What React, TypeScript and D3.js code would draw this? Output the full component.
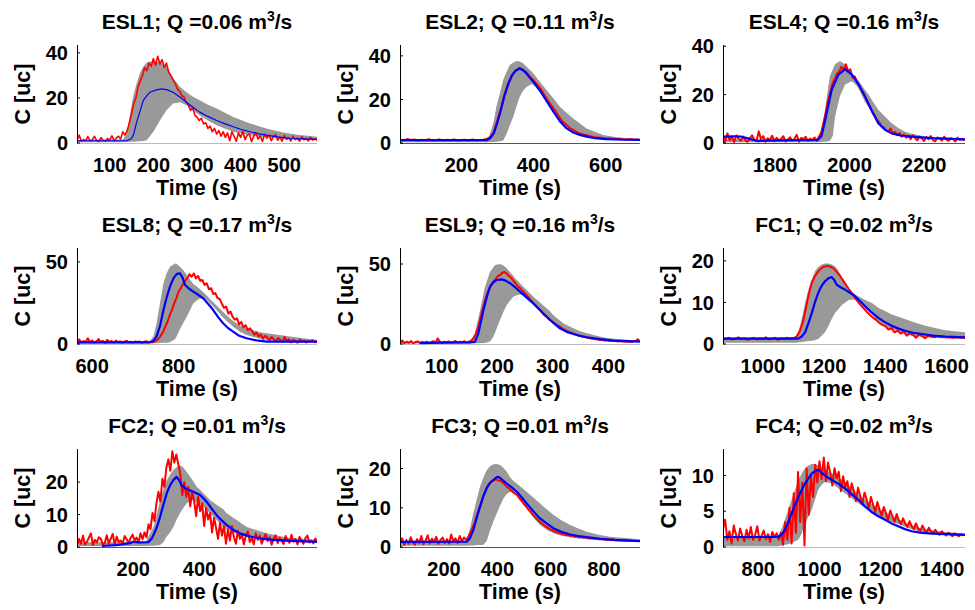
import React from "react";
import * as d3 from "d3";

// ---------- DATA ----------
// Observed (red) series: regularly sampled, start time + step, values in uc
const esl1ObsStart = 25, esl1ObsStep = 5;
const esl1Obs = [1.2,3.5,0.8,1.5,1.0,2.8,0.9,1.4,3.0,1.1,0.7,2.4,1.2,0.9,2.0,1.3,3.2,1.0,2.2,
3.0,1.8,5.0,3.5,5.5,9.0,13.0,17.5,20.0,25.0,27.5,30.0,33.5,32.0,35.5,34.0,37.5,34.5,38.5,35.0,37.0,33.5,35.5,31.5,30.0,28.0,26.5,24.0,23.0,21.0,20.5,18.0,17.0,14.5,15.5,12.5,11.5,10.0,11.0,8.5,9.0,6.5,7.5,5.0,6.5,4.0,5.5,3.0,5.0,2.5,4.5,1.0,5.0,3.0,0.8,4.5,2.5,5.2,1.5,3.5,4.0,0.6,3.0,4.5,1.8,3.2,0.7,4.0,2.2,3.6,1.0,2.8,3.8,1.2,2.6,0.8,3.4,1.6,2.4,0.9,3.0,1.5,2.2,0.8,2.8,1.4,2.0,0.9,2.5,1.3,1.9,1.2];
const esl1Model = [[25,1],[140,1],[150,2],[155,4],[161,8.7],[170,14.5],[177,18.9],[185,21],[192,22.5],[207,23.6],[220,24],[232,23.6],[245,22.5],[260,20.5],[276,18.1],[290,16],[306,13.7],[325,11.8],[345,10],[365,8.5],[383,7.2],[400,6.1],[421,5],[440,4.2],[459,3.5],[485,2.7],[513,2],[545,1.8],[575,1.6]];
const esl1Band = [[25,0.3,1.3],[130,0.3,1.5],[139,0.4,4],[146,0.5,12],[153,0.6,20],[161,0.7,26],[169,0.8,31],[177,0.9,34],[185,1.2,35.7],[192,3,36.2],[200,5,36],[215,10,35.8],[230,14.5,34],[245,17.5,29],[261,18.1,25],[276,16.8,22.5],[290,14.5,20.6],[306,12.3,19],[325,10,17],[345,7.9,15.3],[365,6.3,13.3],[383,5,11.5],[420,3.5,8.8],[459,2.5,6.4],[500,1.9,4.6],[536,1.5,3.5],[575,1.3,2.8]];

const esl2ObsStart = 30, esl2ObsStep = 10;
const esl2Obs = [1.5,1.2,1.8,1.4,1.6,1.1,1.5,1.3,1.7,1.2,1.4,1.6,1.1,1.5,1.3,1.6,1.2,1.4,1.5,1.1,1.6,1.3,1.4,1.5,1.8,2.8,5.0,10.5,16.0,22.5,27.5,31.0,33.0,34.5,33.8,32.5,30.5,28.8,26.8,24.8,22.0,19.5,17.2,14.8,12.2,10.0,8.5,7.0,6.0,5.0,4.3,3.8,3.4,3.0,2.6,2.5,2.3,2.1,2.2,1.9,1.8,2.0,1.7,1.6,1.8,1.5,1.7];
const esl2Model = [[30,1.3],[270,1.3],[280,2.2],[290,4.5],[300,9.5],[310,15.5],[320,22],[330,27],[340,31],[350,33.2],[362,34.2],[372,33.3],[381,31.8],[399,28.2],[418,24],[436,19.3],[455,14.4],[473,10],[492,6.7],[510,4.8],[530,3.6],[547,2.9],[570,2.2],[600,1.8],[650,1.5],[695,1.4]];
const esl2Band = [[30,0.3,1.4],[270,0.3,1.5],[275,0.4,2],[290,0.5,10],[297,0.6,16.7],[307,0.8,23],[316,1.2,29],[326,4.5,33],[334,8,35.8],[344,12,37],[353,17,37.6],[362,21.3,37.4],[371,24,36.6],[381,25.8,35],[394,27,33],[399,26.7,32],[418,23.6,28],[436,19.7,24.3],[455,15.2,20.5],[473,10.6,16.7],[492,7.5,13.8],[510,5.2,11.3],[547,2.9,6.7],[593,1.8,3.7],[640,1.4,2.4],[695,1.3,1.8]];

const esl4ObsStart = 1660, esl4ObsStep = 6;
const esl4Obs = [2.8,0.6,3.9,1.2,2.5,0.4,3.1,1.8,0.9,2.7,1.1,0.5,2.0,3.2,1.4,0.8,4.8,1.6,2.9,0.5,1.9,1.3,3.0,0.7,2.2,1.0,1.6,2.8,0.6,1.4,2.4,0.9,1.7,3.4,0.5,2.1,1.5,2.6,0.8,1.8,1.2,2.3,0.9,2.7,
4.5,8.5,12.5,17.5,21.0,24.5,26.5,28.5,29.5,31.5,30.0,32.5,29.5,30.5,27.0,27.5,25.0,24.0,22.0,20.5,18.5,16.5,14.5,12.5,11.0,9.5,8.5,7.0,6.5,
5.5,4.8,6.0,3.9,4.6,3.2,4.1,2.6,3.5,2.2,3.0,1.6,3.3,2.0,1.1,2.7,1.9,0.8,2.5,1.5,2.9,1.2,0.7,2.3,1.8,1.0,2.6,1.4,0.9,2.0,1.6,0.6,2.2,1.3,1.7,1.0];
const esl4Model = [[1660,2.6],[1690,2.8],[1710,2.6],[1730,1.8],[1754,0.8],[1780,1.0],[1850,1.2],[1915,1.3],[1925,3],[1938,12],[1952,22],[1970,28.3],[1988,30.5],[2006,28.3],[2023,24.5],[2041,19.3],[2059,13.5],[2077,8.2],[2095,5.5],[2113,4],[2140,3],[2167,2.6],[2220,2],[2310,1.5]];
const esl4Band = [[1660,0.3,1.5],[1916,0.3,1.6],[1925,0.4,5],[1934,0.5,13.7],[1947,0.8,27.6],[1955,3,30.5],[1961,11,32.5],[1974,19.3,33.9],[1988,24.2,32.5],[2006,25.5,28.8],[2014,24.5,27.6],[2023,22.8,26],[2041,17,22],[2050,15.1,20.2],[2059,13,18],[2077,8.9,13.7],[2095,6.5,11],[2113,4.7,8.2],[2131,3.5,6.2],[2149,2.8,4.7],[2167,2.6,3.8],[2203,2,2.6],[2310,1.25,1.9]];

const esl8ObsStart = 565, esl8ObsStep = 5;
const esl8Obs = [1.5,2.8,0.9,1.8,1.2,3.5,1.0,2.2,0.8,1.6,3.0,1.1,1.9,0.7,2.5,1.3,1.8,0.9,2.0,1.2,1.6,0.8,1.5,1.9,1.0,1.4,0.9,1.6,1.2,1.5,0.8,1.3,1.7,1.0,1.4,1.1,1.6,2.2,3.8,5.5,8.0,11.0,14.0,18.0,21.0,25.0,28.0,32.0,34.0,36.5,38.5,40.0,42.5,41.0,43.0,40.0,41.5,38.5,39.0,36.0,37.0,33.5,34.0,30.5,31.0,28.0,27.5,
24.5,22.0,22.8,18.5,19.8,16.5,14.8,15.6,12.0,13.4,10.2,11.5,8.4,9.6,7.8,5.6,7.0,4.6,5.8,3.2,5.0,3.9,2.2,4.4,2.8,1.6,3.6,2.4,1.3,4.2,2.0,2.9,1.0,2.5,1.8,0.8,2.7,1.4,2.1,0.9,1.9,1.5,2.3,1.1,1.4];
const esl8Model = [[565,1],[734,1],[742,2],[749,4.5],[757,11],[765,20.7],[772,28],[780,35],[788,40],[796,42.7],[803,43],[809,40.5],[815,36],[825,33.5],[834,31.9],[845,30],[857,27.8],[868,24.5],[880,20.7],[891,16.5],[903,12.6],[914,9.8],[926,7.5],[940,5],[957,3.5],[980,2.2],[1004,1.4],[1120,1.4]];
const esl8Band = [[565,0.3,1.2],[734,0.3,1.5],[742,0.4,5],[749,0.5,12.6],[757,0.6,25],[765,0.7,37],[772,0.8,43],[780,1,47],[792,3,49],[796,5,48.8],[803,9,47],[811,13,45],[819,16.7,42],[827,21,39],[834,24.8,36.5],[842,26.5,35],[849,27.8,33.5],[857,27.5,31.5],[865,26.8,29.5],[872,25,27.5],[888,20.5,23.5],[903,16,19.5],[911,14,17.5],[926,10.5,14],[942,7.5,11.5],[957,5.5,9.6],[988,3.2,7.2],[1004,2.5,6.5],[1058,1.7,4.5],[1120,1.4,2.4]];

const esl9ObsStart = 25, esl9ObsStep = 4;
const esl9Obs = [1.0,2.2,0.6,1.4,0.8,1.8,0.5,1.2,1.6,0.7,1.3,0.9,1.5,0.6,1.1,1.8,0.8,3.5,1.2,0.7,1.4,1.0,1.6,0.8,1.3,1.9,0.9,1.4,1.1,1.7,1.0,1.5,2.0,3.5,6.0,10.0,15.0,20.5,26.0,30.5,34.0,37.0,39.0,40.5,42.5,43.0,44.5,45.0,44.0,42.5,41.5,39.5,38.0,36.0,35.0,33.5,32.0,30.5,29.0,27.0,25.5,24.0,22.5,21.0,19.5,18.0,17.0,15.5,14.5,13.5,12.5,11.5,10.8,9.8,9.0,8.2,7.6,7.0,6.6,6.0,5.5,5.2,4.6,4.4,4.0,3.8,3.4,3.3,2.9,2.8,2.5,2.6,2.2,2.3,2.0,2.1,1.8,2.0,1.6,1.8,1.5,1.7,1.4,1.6,1.3,1.5,1.8,3.0,1.4];
const esl9Model = [[61,0.5],[100,0.8],[150,1],[160,1.3],[166,6.7],[175,21],[181,29],[187,35.8],[193,38.5],[199,40],[208,40.4],[215,39.6],[223,38],[232,35.5],[241,32.7],[253,29],[265,25.4],[277,21.2],[289,17],[301,13.2],[313,9.8],[325,7.6],[337,6.25],[349,5.1],[361,4.2],[385,3],[409,2.1],[457,1.5]];
const esl9Band = [[25,0.3,1.2],[151,0.3,1.6],[160,0.4,6.7],[169,0.5,21],[178,0.6,35.8],[187,1.5,45.2],[193,4.6,48],[196,7,49.4],[205,15,50],[211,20,49],[217,24.4,47.3],[229,29.6,42.5],[235,30.5,40],[241,31,38],[253,29.6,33.8],[265,25.5,29.5],[277,21.5,26],[295,15,20.5],[301,13.5,18],[319,8.75,13],[337,6,9.8],[349,4.6,8],[373,3.2,5.6],[397,2.5,3.8],[421,1.9,2.9],[457,1.5,2.1]];

const fc1ObsStart = 870, fc1ObsStep = 10;
const fc1Obs = [1.4,1.2,1.5,1.1,1.3,1.6,1.2,1.4,1.0,1.3,1.5,1.1,1.4,1.2,1.6,1.1,1.3,1.5,1.0,1.4,1.2,1.5,1.3,1.4,1.8,3.0,5.0,8.5,12.0,14.8,16.3,17.4,18.2,18.6,18.8,18.6,18.2,17.5,16.6,15.5,14.4,13.3,12.3,11.2,10.2,9.3,8.5,7.7,7.0,6.3,5.8,5.1,4.6,4.3,3.5,3.8,2.8,3.2,2.5,2.9,2.0,2.6,2.2,1.5,2.3,1.9,1.4,2.0,1.8,1.6,1.9,1.7,1.8,1.6,1.7,1.5,1.6,1.7,1.5,1.6];
const fc1Model = [[870,1.3],[1116,1.3],[1127,1.8],[1138,2.8],[1149,5],[1160,7.5],[1170,10],[1181,12.3],[1192,14],[1203,15.1],[1214,15.8],[1225,16.1],[1233,15.4],[1241,14.3],[1255,13.6],[1268,13.1],[1285,12.3],[1301,11.5],[1318,10.3],[1334,9.1],[1355,7.6],[1377,6.3],[1400,5.2],[1421,4.4],[1443,3.7],[1464,3.2],[1490,2.7],[1519,2.4],[1555,2.0],[1595,1.8],[1660,1.6]];
const fc1Band = [[870,0.3,1.5],[1110,0.3,1.6],[1118,0.4,3.5],[1127,0.5,6],[1138,0.6,9.8],[1149,0.7,13.1],[1160,0.8,15.5],[1170,0.9,17.5],[1181,1.2,18.5],[1192,2,19.1],[1203,2.8,19.4],[1214,4.3,19.4],[1225,6,19.1],[1236,7.5,18.7],[1246,8.3,17.7],[1257,9.3,16.3],[1268,9.9,15],[1279,10.5,13.5],[1290,10.7,12.6],[1301,10.6,12],[1312,10.3,11.5],[1328,9,10.8],[1345,7.9,10.2],[1355,7.2,9.9],[1377,5.5,8.7],[1410,3.9,7.5],[1421,3.6,7.1],[1464,2.5,6],[1486,2,5.4],[1530,1.6,4.4],[1595,1.3,3.3],[1660,1.2,2.8]];

const fc2ObsStart = 30, fc2ObsStep = 6;
const fc2Obs = [0.5,2.5,1.0,3.5,0.8,1.6,2.9,4.2,0.6,2.2,1.4,3.0,2.5,0.7,1.3,3.6,1.0,2.6,4.0,0.7,3.2,1.5,2.0,1.1,3.4,2.4,1.2,2.8,3.8,2.0,2.9,1.4,4.2,2.4,
4.5,3.0,7.0,5.5,10.5,8.0,13.5,17.0,14.0,21.0,18.5,24.5,27.0,23.5,29.5,26.0,28.5,25.5,22.5,
16.0,20.0,15.5,18.5,12.5,17.0,14.0,9.5,15.5,11.0,13.5,6.5,12.0,8.5,10.5,4.5,9.0,6.0,2.5,7.5,3.5,6.5,1.0,5.5,2.0,6.5,3.0,1.0,5.0,2.5,4.0,0.8,3.5,4.8,1.5,2.8,0.8,4.2,2.2,3.5,1.0,2.6,4.0,1.8,3.0,0.7,2.4,3.6,1.2,2.8,1.9,0.9,3.4,2.0,1.3,3.8,1.6,2.5,0.8,3.1,2.2,1.0,2.7,3.5,1.4,2.0,1.1,2.6,1.5];
const fc2Model = [[105,0.3],[150,0.6],[190,1.2],[200,1.6],[220,1.4],[245,1.5],[255,2.5],[261,3.7],[271,6],[281,9.3],[291,13],[301,16.5],[311,19],[321,20.6],[331,21.6],[339,20.5],[346,19],[356,18.2],[371,17.5],[386,16.8],[402,16],[412,15],[422,13.9],[437,11.8],[452,9.8],[467,8.2],[482,6.8],[502,5.3],[522,4.2],[543,3.5],[563,3],[593,2.5],[623,2.2],[680,1.9],[755,1.6]];
const fc2Band = [[30,0.3,1.5],[235,0.3,1.5],[240,0.3,2],[250,0.4,4],[261,0.4,6.2],[271,0.5,10],[281,0.6,14.5],[291,1.5,17.8],[301,3.2,20.6],[311,4.5,22.3],[321,6.2,23.7],[331,8.5,24.6],[341,10.4,25.2],[351,12,24.5],[361,13.4,23.2],[376,14.5,21],[392,13.8,18.6],[402,13.4,17.6],[432,10.4,14.5],[452,8.3,13],[472,6.2,11.6],[482,5.5,10.4],[522,3.7,7.6],[543,3.2,6.2],[603,2.2,4.2],[674,1.7,2.7],[755,1.3,2.2]];

const fc3ObsStart = 35, fc3ObsStep = 8;
const fc3Obs = [1.0,2.2,0.5,1.8,0.8,2.5,1.2,0.6,2.0,1.0,2.8,0.7,1.6,3.0,0.9,2.1,1.3,2.6,0.8,1.8,2.4,1.0,2.0,0.9,3.2,1.4,2.2,1.0,2.8,1.5,2.4,1.8,2.6,3.8,4.8,6.2,8.0,9.6,11.0,12.8,14.2,15.4,16.2,16.8,17.0,17.3,17.0,16.9,16.5,16.0,15.4,15.0,14.5,14.0,13.6,13.2,12.4,11.8,11.0,10.4,9.7,9.1,8.4,7.8,7.2,6.7,6.2,5.8,5.3,5.0,4.6,4.4,4.1,3.8,3.7,3.5,3.3,3.2,3.0,3.1,2.8,2.9,2.6,2.7,2.5,2.6,2.4,2.5,2.3,2.2,2.3,2.1,2.2,2.0,2.1,2.0,1.9,2.0,1.9,1.8,2.0,1.7,1.8,1.7,1.8,1.6,1.7,1.6,1.7,1.5,1.6,1.5,1.5];
const fc3Model = [[35,1.3],[285,1.35],[297,2.2],[310,4.3],[322,7.3],[335,10.3],[347,12.9],[360,15],[372,16.3],[385,17.1],[397,17.8],[404,17.9],[412,17.5],[423,16.9],[435,16.2],[454,15.2],[473,14.1],[491,12.7],[510,11.1],[535,9.1],[560,7.3],[585,6],[610,4.8],[640,3.9],[673,3.2],[704,2.8],[735,2.5],[785,2.1],[835,1.8],[935,1.5]];
const fc3Band = [[35,0.3,1.5],[285,0.3,1.6],[297,0.4,4.5],[310,0.4,8.6],[323,0.5,12.2],[335,0.5,15.4],[348,0.6,17.8],[360,1.5,19.6],[373,4.3,20.6],[385,6.5,21.1],[398,8.6,21.2],[410,10.5,20.9],[423,12.4,20.2],[435,13.5,19.2],[448,14.1,17.8],[460,13.8,16.9],[473,13.3,16.2],[491,11.7,15.2],[510,9.9,14.1],[535,7.5,12.6],[560,5.6,11.1],[585,4.4,9.6],[610,3.5,8.2],[640,2.9,6.8],[673,2.5,5.6],[704,2.2,4.7],[735,2,3.9],[780,1.7,3.1],[822,1.5,2.6],[935,1.35,2]];

const fc4ObsStart = 685, fc4ObsStep = 7;
const fc4Obs = [2.5,3.8,1.0,2.2,0.5,3.0,1.8,0.9,2.6,1.5,0.8,2.4,1.2,2.8,1.0,1.7,2.9,0.9,1.6,2.3,1.1,1.8,0.7,2.1,1.4,1.9,1.0,2.0,0.3,3.5,1.0,5.5,0.5,7.5,2.0,10.5,3.5,9.0,0.2,11.0,4.5,10.0,7.0,11.5,9.0,12.0,9.5,
12.5,9.2,11.8,10.4,8.6,11.0,9.6,10.5,7.8,9.9,8.4,9.2,7.0,8.9,7.9,6.4,8.3,7.1,6.0,7.6,6.6,5.4,7.0,5.9,4.9,6.3,5.2,4.4,5.6,4.7,3.8,5.1,4.3,3.5,4.6,3.7,3.2,4.0,3.3,2.8,3.6,2.9,2.5,3.3,2.6,2.2,3.0,2.4,2.0,2.7,2.2,1.9,2.4,2.0,1.7,2.2,1.9,1.6,2.0,1.8,1.5,1.9,1.7,1.5,1.8,1.6];
const fc4Model = [[685,1.4],[865,1.4],[876,1.7],[887,2.4],[898,3.5],[909,4.7],[920,5.9],[931,7],[942,8],[953,8.9],[964,9.6],[975,10.3],[986,10.6],[996,10.8],[1007,10.4],[1018,10],[1035,9.5],[1051,9.1],[1067,8.7],[1083,8.2],[1105,7.4],[1127,6.6],[1148,5.7],[1170,4.9],[1192,4.3],[1214,3.8],[1235,3.3],[1257,2.9],[1279,2.5],[1301,2.2],[1328,2],[1355,1.9],[1410,1.8],[1475,1.7]];
const fc4Band = [[685,0.1,1.5],[865,0.1,1.6],[876,0.2,2.5],[887,0.3,3.8],[898,0.4,5.2],[909,0.6,6.6],[920,0.8,8],[931,1,9.3],[942,1.9,10.3],[953,3.2,11],[964,4.3,11.4],[975,5.2,11.6],[986,6.7,11.6],[996,8,11.4],[1007,8.7,11],[1018,9.1,10.8],[1040,8.9,10.3],[1061,8.2,9.7],[1083,7.5,9.1],[1105,6.8,8.2],[1127,6.1,7.3],[1160,5.1,6.3],[1192,4.2,5.4],[1225,3.6,4.6],[1257,3.2,3.9],[1295,2.6,3.1],[1333,2.1,2.6],[1370,1.9,2.3],[1410,1.7,2.1],[1475,1.5,1.9]];

// Panel labels, axis domains and ticks
const panelNames = ["ESL1","ESL2","ESL4","ESL8","ESL9","FC1","FC2","FC3","FC4"];
const panelQ = ["0.06","0.11","0.16","0.17","0.16","0.02","0.01","0.01","0.02"];
const xDomains = [[25,575],[30,695],[1660,2310],[565,1120],[25,457],[870,1660],[30,755],[35,935],[685,1475]];
const yDomains = [[0,43.5],[0,45],[0,40.5],[0,58.5],[0,60],[0,23.1],[0,30.2],[0,25],[0,13.7]];
const xTicks = [[100,200,300,400,500],[200,400,600],[1800,2000,2200],[600,800,1000],[100,200,300,400],[1000,1200,1400,1600],[200,400,600],[200,400,600,800],[800,1000,1200,1400]];
const yTicks = [[0,20,40],[0,20,40],[0,20,40],[0,50],[0,50],[0,10,20],[0,10,20],[0,10,20],[0,5,10]];

const obsSeries = [
  [esl1ObsStart, esl1ObsStep, esl1Obs],
  [esl2ObsStart, esl2ObsStep, esl2Obs],
  [esl4ObsStart, esl4ObsStep, esl4Obs],
  [esl8ObsStart, esl8ObsStep, esl8Obs],
  [esl9ObsStart, esl9ObsStep, esl9Obs],
  [fc1ObsStart, fc1ObsStep, fc1Obs],
  [fc2ObsStart, fc2ObsStep, fc2Obs],
  [fc3ObsStart, fc3ObsStep, fc3Obs],
  [fc4ObsStart, fc4ObsStep, fc4Obs],
];
const modelSeries = [esl1Model, esl2Model, esl4Model, esl8Model, esl9Model, fc1Model, fc2Model, fc3Model, fc4Model];
const bandSeries = [esl1Band, esl2Band, esl4Band, esl8Band, esl9Band, fc1Band, fc2Band, fc3Band, fc4Band];

// ---------- LAYOUT / STYLE ----------
const W = 975, H = 610;
const colLeft = [77, 400, 723];
const colRight = [317, 640, 965];
const rowTop = [45, 248, 449];
const rowBottom = [143, 344, 547];
const FONT = "'Liberation Sans', Arial, Helvetica, sans-serif";
const darkXAxis = [false, true, true, false, false, false, true, true, false];

function Panel({ i }: { i: number }) {
  const col = i % 3, row = Math.floor(i / 3);
  const x0 = colLeft[col], x1 = colRight[col];
  const yT = rowTop[row], yB = rowBottom[row];
  const x = d3.scaleLinear().domain(xDomains[i]).range([x0, x1]);
  const y = d3.scaleLinear().domain(yDomains[i]).range([yB, yT]);
  const area = d3.area<number[]>().x(d => x(d[0])).y0(d => y(d[1])).y1(d => y(d[2]));
  const line = d3.line<number[]>().x(d => x(d[0])).y(d => y(d[1]));
  const [t0, dt, vals] = obsSeries[i] as [number, number, number[]];
  const obsPts = vals.map((v, k) => [t0 + k * dt, v]);
  const clipId = `clip${i}`;
  const thin = i === 0;
  const cx = (x0 + x1) / 2;
  return (
    <g>
      <defs>
        <clipPath id={clipId}>
          <rect x={x0} y={yT} width={x1 - x0} height={yB - yT + 1} />
        </clipPath>
      </defs>
      <line x1={x0} x2={x1} y1={yB + 0.5} y2={yB + 0.5} stroke={darkXAxis[i] ? "#555" : "#bbb"} strokeWidth={1} />
      <g clipPath={`url(#${clipId})`}>
        <path d={area(bandSeries[i]) || ""} fill="#999999" stroke="none" />
        <path d={line(obsPts) || ""} fill="none" stroke="#ff0000" strokeWidth={thin ? 1.6 : 2} strokeLinejoin="round" />
        <path d={line(modelSeries[i]) || ""} fill="none" stroke="#0000ff" strokeWidth={thin ? 1.2 : 2.2} strokeLinejoin="round" />
      </g>
      <line x1={x0 + 0.5} x2={x0 + 0.5} y1={yT} y2={yB} stroke="#000" strokeWidth={1} />
      {yTicks[i].map(t => (
        <g key={t}>
          <line x1={x0} x2={x0 + 3} y1={y(t)} y2={y(t)} stroke="#000" strokeWidth={1} />
          <text x={x0 - 9} y={y(t)} dy="0.36em" textAnchor="end" fontSize={20} fontWeight="bold" fontFamily={FONT}>{t}</text>
        </g>
      ))}
      {xTicks[i].map(t => (
        <text key={t} x={x(t)} y={yB + 29} textAnchor="middle" fontSize={20} fontWeight="bold" fontFamily={FONT}>{t}</text>
      ))}
      <text x={cx} y={yB + 52} textAnchor="middle" fontSize={21.5} fontWeight="bold" fontFamily={FONT}>Time (s)</text>
      <text transform={`translate(${x0 - 47},${(yT + yB) / 2}) rotate(-90)`} textAnchor="middle" fontSize={21.5} fontWeight="bold" fontFamily={FONT}>C [uc]</text>
      <text x={cx} y={yT - 16} textAnchor="middle" fontSize={21} fontWeight="bold" fontFamily={FONT}>
        {`${panelNames[i]}; Q =${panelQ[i]} m`}
        <tspan dy={-8} fontSize={14}>3</tspan>
        <tspan dy={8}>/s</tspan>
      </text>
    </g>
  );
}

export default function App() {
  return (
    <svg width={W} height={H} viewBox={`0 0 ${W} ${H}`} style={{ position: "absolute", left: 0, top: 0, background: "#fff" }}>
      <rect x={0} y={0} width={W} height={H} fill="#fff" />
      {panelNames.map((_, i) => <Panel key={i} i={i} />)}
    </svg>
  );
}
